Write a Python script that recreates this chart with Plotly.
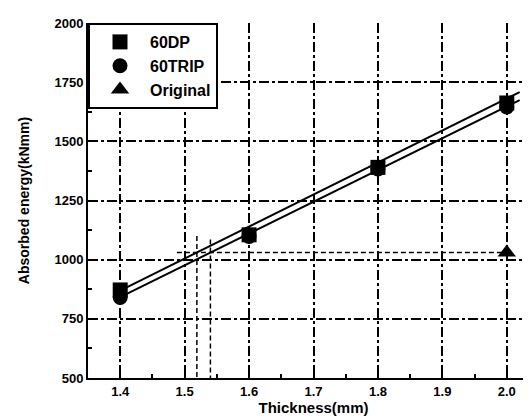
import plotly.graph_objects as go

# Measured points
thickness = [1.4, 1.6, 1.8, 2.0]
energy_60dp = [872, 1105, 1390, 1662]
energy_60trip = [840, 1098, 1383, 1645]
orig_thickness = [2.0]
energy_original = [1030]

# Linear fit lines (end points)
fit_dp_x = [1.41, 2.02]
fit_dp_y = [883, 1708]
fit_trip_x = [1.40, 2.02]
fit_trip_y = [842, 1674]

# Equal-energy guide lines
guide_level = 1030
guide_h_x = [1.488, 2.0]
guide_v_x = [1.519, 1.540]
guide_v_top = [1100, 1085]

FONT = "Liberation Sans"

fig = go.Figure()

# guides (dashed)
fig.add_trace(go.Scatter(
    x=guide_h_x, y=[guide_level, guide_level], mode="lines",
    line=dict(color="black", width=1.5, dash="5px,3px"), showlegend=False,
    hoverinfo="skip"))
for gx, gt in zip(guide_v_x, guide_v_top):
    fig.add_trace(go.Scatter(
        x=[gx, gx], y=[gt, 500], mode="lines",
        line=dict(color="black", width=1.5, dash="5px,3px"), showlegend=False,
        hoverinfo="skip"))

# fit lines
fig.add_trace(go.Scatter(x=fit_dp_x, y=fit_dp_y, mode="lines",
                         line=dict(color="black", width=2), showlegend=False))
fig.add_trace(go.Scatter(x=fit_trip_x, y=fit_trip_y, mode="lines",
                         line=dict(color="black", width=2), showlegend=False))

# markers
fig.add_trace(go.Scatter(x=thickness, y=energy_60trip, mode="markers", name="60TRIP",
                         marker=dict(symbol="circle", size=15, color="black"),
                         legendrank=2))
fig.add_trace(go.Scatter(x=thickness, y=energy_60dp, mode="markers", name="60DP",
                         marker=dict(symbol="square", size=15, color="black"),
                         legendrank=1))
fig.add_trace(go.Scatter(x=orig_thickness, y=energy_original, mode="markers", name="Original",
                         marker=dict(symbol="triangle-up", size=16, color="black"),
                         legendrank=3))

axis_common = dict(
    showline=True, linecolor="black", linewidth=2, mirror=False,
    ticks="inside", ticklen=7, tickwidth=2, tickcolor="black",
    showgrid=True, gridcolor="black", gridwidth=1.5, griddash="10px,3px,3px,3px",
    zeroline=False,
    tickfont=dict(family=FONT, size=13, color="black", weight="bold"),
)

fig.update_xaxes(
    range=[1.35, 2.05], tick0=1.4, dtick=0.1, tickformat=".1f",
    minor=dict(ticks="inside", ticklen=4, tickwidth=2, tickcolor="black",
               dtick=0.05, tick0=1.35, showgrid=False),
    title=dict(text="Thickness(mm)", standoff=3,
               font=dict(family=FONT, size=15, color="black", weight="bold")),
    **axis_common)
fig.update_yaxes(
    range=[500, 2000], tick0=500, dtick=250,
    minor=dict(ticks="inside", ticklen=4, tickwidth=2, tickcolor="black",
               dtick=125, tick0=500, showgrid=False),
    title=dict(text="Absorbed energy(kNmm)", standoff=22,
               font=dict(family=FONT, size=14, color="black", weight="bold")),
    **axis_common)

fig.update_layout(
    width=531, height=418,
    margin=dict(l=80, r=0, t=15, b=48),
    plot_bgcolor="white", paper_bgcolor="white",
    font=dict(family=FONT, color="black"),
    legend=dict(x=0, y=1, xanchor="left", yanchor="top",
                bgcolor="white", bordercolor="black", borderwidth=2,
                itemwidth=50, traceorder="normal",
                font=dict(family=FONT, size=16, color="black", weight="bold")),
)

fig.write_html("out.html")
